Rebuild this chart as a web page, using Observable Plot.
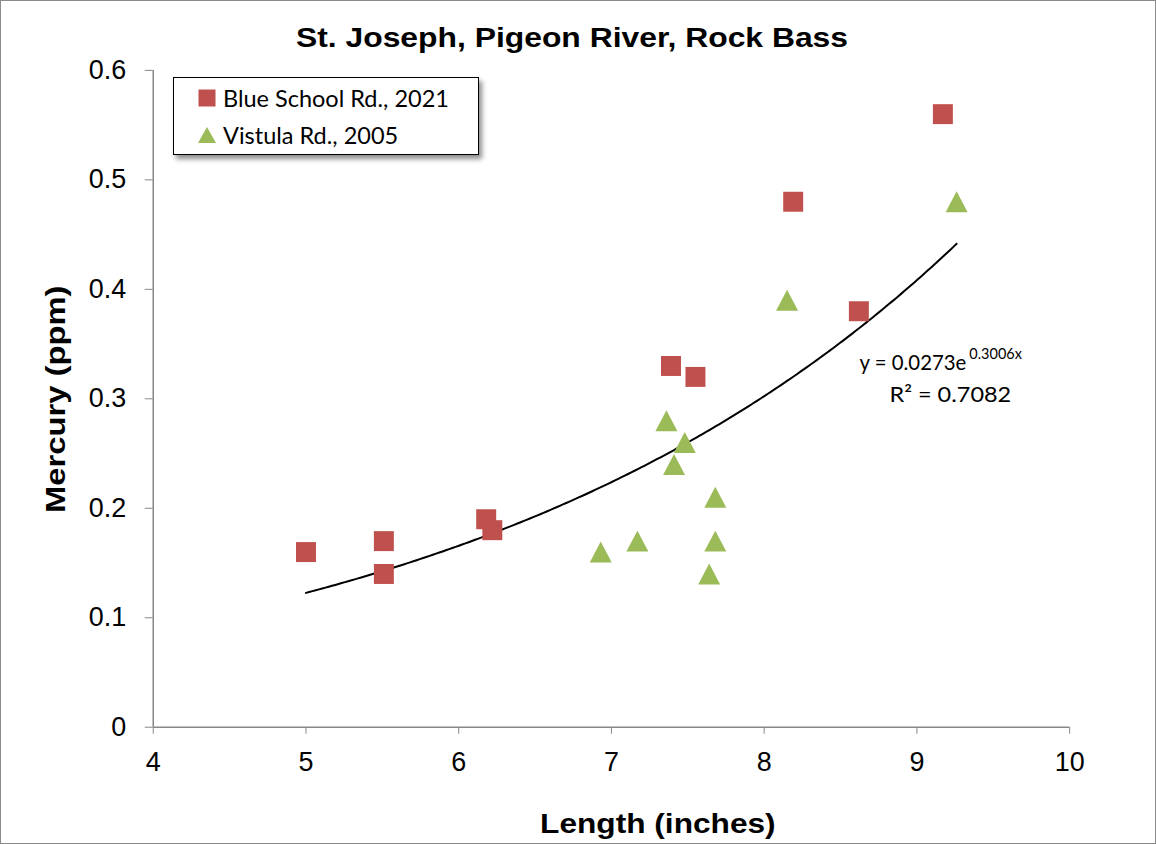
<!DOCTYPE html>
<html>
<head>
<meta charset="utf-8">
<script src="https://cdn.jsdelivr.net/npm/d3@7"></script>
<script src="https://cdn.jsdelivr.net/npm/@observablehq/plot@0.6"></script>
<style>
  html, body { margin: 0; padding: 0; background: #fff; }
  #wrap { position: relative; width: 1156px; height: 844px; box-sizing: border-box; border: 1.5px solid #8a8a8a; overflow: hidden; }
  #chart { position: absolute; left: 0; top: 0; }
  #legend { position: absolute; left: 172px; top: 76px; width: 306px; height: 78px; box-sizing: border-box;
            border: 1.5px solid #000; background: #fff; box-shadow: 3px 4px 5px rgba(0,0,0,0.45);
            font-family: Lato, "Open Sans", sans-serif; font-size: 23.5px; color: #000; }
  .li { position: absolute; left: 24px; display: flex; align-items: center; white-space: nowrap; }
  .sw { width: 18px; height: 18px; margin-right: 7px; }
</style>
</head>
<body>
<div id="wrap">
  <div id="chart"></div>
  <div id="legend"></div>
</div>
<script>
// ---- data ----
const blueLength = [5.0, 5.51, 5.51, 6.18, 6.22, 7.39, 7.55, 8.19, 8.62, 9.17];
const blueMercury = [0.16, 0.17, 0.14, 0.19, 0.18, 0.33, 0.32, 0.48, 0.38, 0.56];
const vistulaLength = [6.93, 7.17, 7.36, 7.41, 7.48, 7.64, 7.68, 7.68, 8.15, 9.26];
const vistulaMercury = [0.16, 0.17, 0.28, 0.24, 0.26, 0.14, 0.21, 0.17, 0.39, 0.48];
const seriesNames = ["Blue School Rd., 2021", "Vistula Rd., 2005"];
const seriesColors = ["#C0504D", "#9BBB59"];
const xTicks = [4, 5, 6, 7, 8, 9, 10];
const yTicks = [0, 0.1, 0.2, 0.3, 0.4, 0.5, 0.6];
const fitA = 0.0273, fitB = 0.3006, fitR2 = "0.7082";
const titleText = "St. Joseph, Pigeon River, Rock Bass";
const xLabel = "Length (inches)";
const yLabel = "Mercury (ppm)";

const blue = blueLength.map((x, i) => ({x, y: blueMercury[i]}));
const vist = vistulaLength.map((x, i) => ({x, y: vistulaMercury[i]}));
const allX = blueLength.concat(vistulaLength);
const xMin = d3.min(allX), xMax = d3.max(allX);
const fit = d3.range(0, 201).map(i => { const x = xMin + (xMax - xMin) * i / 200; return {x, y: fitA * Math.exp(fitB * x)}; });

// custom symbols: sqrt(size) = marker extent
const tri = { draw(ctx, size) { const h = Math.sqrt(size) / 2; const w = h * 1.05;
  ctx.moveTo(0, -h); ctx.lineTo(w, h); ctx.lineTo(-w, h); ctx.closePath(); } };
const sq = { draw(ctx, size) { const s = Math.sqrt(size) / 2; ctx.rect(-s, -s, 2 * s, 2 * s); } };

const plot = Plot.plot({
  width: 1156, height: 844,
  marginLeft: 152, marginRight: 86, marginTop: 69, marginBottom: 117,
  style: { fontFamily: "'Liberation Sans', Arial, sans-serif", fontSize: "27px", color: "#000", background: "transparent" },
  x: { domain: [4, 10] },
  y: { domain: [0, 0.6] },
  marks: [
    Plot.ruleY([0], { stroke: "#888", strokeWidth: 1.5 }),
    Plot.ruleX([4], { stroke: "#888", strokeWidth: 1.5 }),
    Plot.axisX({ ticks: xTicks, tickSize: 7, tickPadding: 18, label: null, stroke: "#888", fill: "#000", fontSize: 27, tickFormat: d => String(d) }),
    Plot.axisY({ ticks: yTicks, tickSize: 8, tickPadding: 19, label: null, stroke: "#888", fill: "#000", fontSize: 27, tickFormat: d => String(+d.toFixed(1)) }),
    Plot.line(fit, { x: "x", y: "y", stroke: "#000", strokeWidth: 2, curve: "linear" }),
    Plot.dot(blue, { x: "x", y: "y", symbol: () => sq, r: 20 / Math.sqrt(Math.PI), fill: seriesColors[0], stroke: "none" }),
    Plot.dot(vist, { x: "x", y: "y", symbol: () => tri, r: 21 / Math.sqrt(Math.PI), fill: seriesColors[1], stroke: "none" })
  ]
});
document.getElementById("chart").appendChild(plot);

const svg = d3.select(plot);
const add = (x, y, txt, opts = {}) => {
  const t = svg.append("text").attr("x", x).attr("y", y).text(txt)
    .attr("text-anchor", opts.anchor || "middle")
    .style("font-family", opts.family || "'Liberation Sans', Arial, sans-serif")
    .style("font-size", (opts.size || 26) + "px")
    .style("font-weight", opts.weight || "bold").attr("fill", "#000");
  if (opts.transform) t.attr("transform", opts.transform);
  if (opts.len) t.attr("textLength", opts.len).attr("lengthAdjust", "spacingAndGlyphs");
  return t;
};
const calibri = "Lato, 'Open Sans', sans-serif";
add(572, 46, titleText, { size: 27, len: 553 });
add(658, 833, xLabel, { size: 28, len: 236 });
add(0, 0, yLabel, { size: 28, len: 228, transform: "translate(64,399) rotate(-90)" });
// trend equation
add(860, 370, "y = 0.0273e", { anchor: "start", family: calibri, size: 22, weight: "normal", len: 107 });
add(970, 359, "0.3006x", { anchor: "start", family: calibri, size: 14.5, weight: "normal" });
add(890, 402, "R² = " + fitR2, { anchor: "start", family: calibri, size: 22, weight: "normal", len: 122 });

// legend
const leg = document.getElementById("legend");
seriesNames.forEach((name, i) => {
  const row = document.createElement("div");
  row.className = "li";
  row.style.top = (i === 0 ? 6 : 43) + "px";
  const sw = i === 0
    ? `<svg class="sw" viewBox="0 0 18 18"><rect x="0.5" y="0.5" width="17" height="17" fill="${seriesColors[0]}"/></svg>`
    : `<svg class="sw" viewBox="0 0 18 18"><path d="M9 1 L18 17 L0 17 Z" fill="${seriesColors[1]}"/></svg>`;
  row.innerHTML = sw + `<span>${name}</span>`;
  leg.appendChild(row);
});
</script>
</body>
</html>
